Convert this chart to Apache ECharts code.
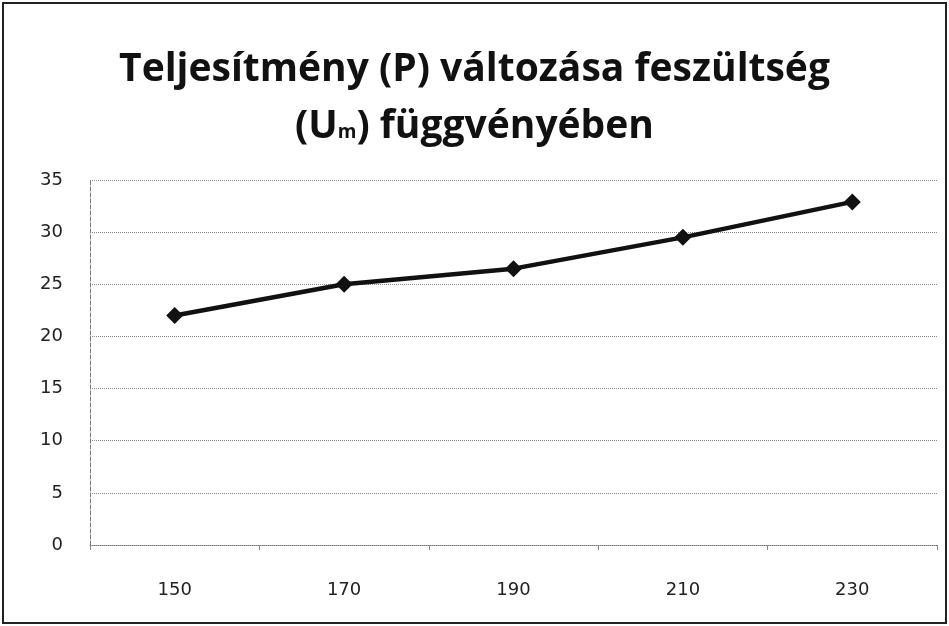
<!DOCTYPE html>
<html>
<head>
<meta charset="utf-8">
<script src="https://cdn.jsdelivr.net/npm/echarts@6/dist/echarts.min.js"></script>
<style>
  html, body { margin: 0; padding: 0; background: #fff; }
  #chart { width: 949px; height: 626px; }
</style>
</head>
<body>
<div id="chart"></div>
<script>
// feszültség (U) kategóriák és teljesítmény (P) értékek
const categories = ['150', '170', '190', '210', '230']
const power = [22.0, 25.0, 26.5, 29.5, 32.9]
const yTicks = { min: 0, max: 35, interval: 5 }

const chart = echarts.init(document.getElementById('chart'))

const titleFont = 'Open Sans'

chart.setOption({
  backgroundColor: '#fff',
  animation: false,
  graphic: [{
    type: 'rect',
    shape: { x: 3, y: 3, width: 943, height: 620 },
    style: { fill: 'none', stroke: '#222', lineWidth: 2 }
  }],
  title: {
    text: '{b|Teljesítmény (P) változása feszültség}\n{b|(U}{s|m}{b|) függvényében}',
    left: 'center',
    top: 36,
    textStyle: {
      rich: {
        b: { fontFamily: titleFont, fontWeight: 'bold', fontSize: 39, color: '#111', lineHeight: 57 },
        s: { fontFamily: titleFont, fontWeight: 'bold', fontSize: 19, color: '#111', lineHeight: 57, padding: [12, 0, 0, 0] }
      }
    }
  },
  grid: {
    left: 90,
    right: 12,
    top: 180,
    bottom: 81
  },
  xAxis: {
    type: 'category',
    data: categories,
    boundaryGap: true,
    axisLine: { lineStyle: { color: '#777', type: 'dotted', width: 1 } },
    axisTick: { show: true, length: 5, inside: false, lineStyle: { color: '#888' } },
    axisLabel: { color: '#222', fontSize: 18, fontFamily: 'DejaVu Sans', margin: 36 }
  },
  yAxis: {
    type: 'value',
    min: yTicks.min,
    max: yTicks.max,
    interval: yTicks.interval,
    axisLine: { show: true, lineStyle: { color: '#777', type: 'dashed', width: 1 } },
    axisTick: { show: false },
    axisLabel: { color: '#222', fontSize: 18, fontFamily: 'DejaVu Sans', margin: 27 },
    splitLine: { lineStyle: { color: '#888', type: 'dotted', width: 1 } }
  },
  series: [{
    name: 'P',
    type: 'line',
    data: power,
    symbol: 'diamond',
    symbolSize: 17,
    lineStyle: { color: '#111', width: 4.5 },
    itemStyle: { color: '#111' }
  }]
})
</script>
</body>
</html>
